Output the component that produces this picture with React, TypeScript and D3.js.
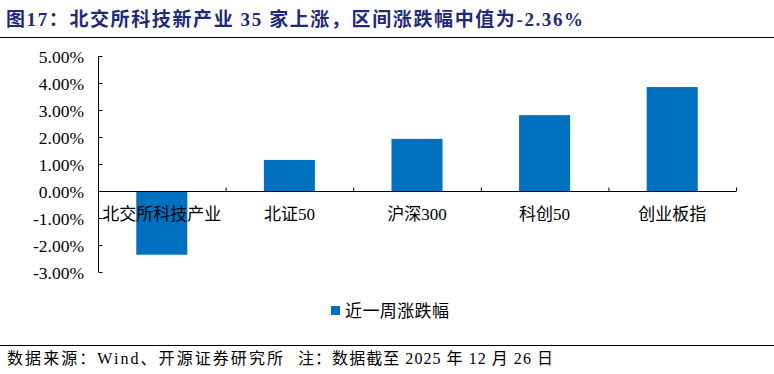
import React from "react";
import * as d3 from "d3";

const categories = ["北交所科技产业", "北证50", "沪深300", "科创50", "创业板指"];
const values = [-2.36, 1.15, 1.93, 2.81, 3.85];
const yTicks = [5, 4, 3, 2, 1, 0, -1, -2, -3];
const title = "图17：北交所科技新产业 35 家上涨，区间涨跌幅中值为-2.36%";
const legendLabel = "近一周涨跌幅";
const sourceA = "数据来源：Wind、开源证券研究所";
const sourceB = "注：数据截至 2025 年 12 月 26 日";

const W = 774;
const H = 374;
const serif = "'Liberation Serif', 'Times New Roman', 'Noto Sans CJK SC', serif";

export default function App() {
  const xb = d3.scaleBand<string>().domain(categories).range([98, 736]);
  const x = d3.scaleBand<string>().domain(categories).range([98, 736]).paddingInner(0.6).paddingOuter(0.3);
  const y = d3.scaleLinear().domain([-3, 5]).range([272, 56]);
  const y0 = Math.round(y(0)) + 0.5;
  return (
    <svg width={W} height={H} style={{ position: "absolute", left: 0, top: 0 }}>
      <rect width={W} height={H} fill="#fff" />
      <text x={6} y={26} fontFamily={serif} fontWeight="bold" fontSize={19} fill="#1F2A7A" textLength={577} lengthAdjust="spacing">{title}</text>
      <line x1={0} x2={W} y1={37.5} y2={37.5} stroke="#000" strokeWidth={1} />
      {values.map((v, i) => (
        <rect key={i} x={x(categories[i])!} width={x.bandwidth()} y={y(Math.max(0, v))} height={Math.abs(y(v) - y(0))} fill="#0070C0" />
      ))}
      <line x1={98.5} x2={98.5} y1={y(5)} y2={y(-3)} stroke="#000" />
      {yTicks.map((t) => (
        <g key={t}>
          <line x1={98.5} x2={102.5} y1={Math.round(y(t)) + 0.5} y2={Math.round(y(t)) + 0.5} stroke="#000" />
          <text x={84} y={y(t) + 6.5} textAnchor="end" fontFamily={serif} fontSize={17.5} fill="#000">{t.toFixed(2) + "%"}</text>
        </g>
      ))}
      <line x1={98} x2={736} y1={y0} y2={y0} stroke="#000" />
      {categories.map((c) => (
        <g key={c}>
          <line x1={xb(c)! + xb.bandwidth() + 0.5} x2={xb(c)! + xb.bandwidth() + 0.5} y1={y0} y2={y0 - 4} stroke="#000" />
          <text x={xb(c)! + xb.bandwidth() / 2} y={y(0) + 29} textAnchor="middle" fontFamily={serif} fontSize={17} fill="#000">{c}</text>
        </g>
      ))}
      <rect x={331} y={306} width={9} height={9} fill="#0070C0" />
      <text x={345} y={317} fontFamily={serif} fontSize={17} fill="#000" textLength={104} lengthAdjust="spacing">{legendLabel}</text>
      <line x1={0} x2={W} y1={345.5} y2={345.5} stroke="#000" />
      <text x={7} y={364} fontFamily={serif} fontSize={16} fill="#000" textLength={276} lengthAdjust="spacing">{sourceA}</text>
      <text x={298} y={364} fontFamily={serif} fontSize={16} fill="#000" textLength={255} lengthAdjust="spacing">{sourceB}</text>
    </svg>
  );
}
